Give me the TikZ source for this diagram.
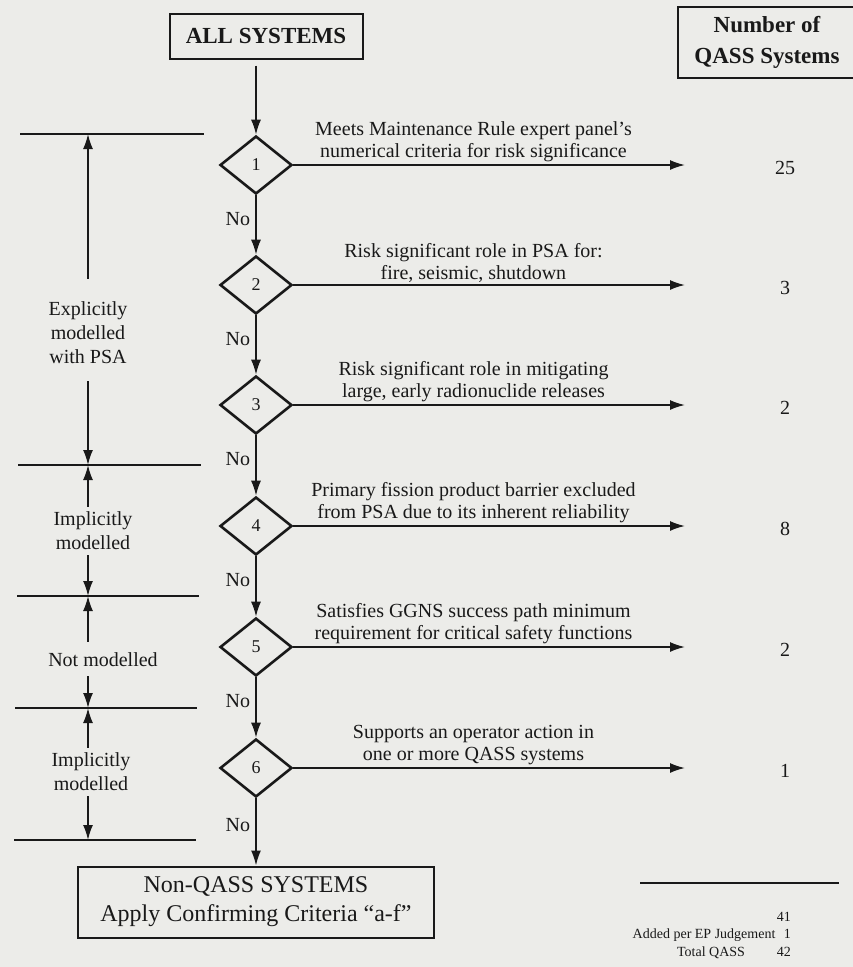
\documentclass[tikz,border=0pt]{standalone}
\usepackage{fontspec}
\setmainfont{Liberation Serif}
\usetikzlibrary{shapes.geometric,arrows.meta,positioning}
\definecolor{paper}{RGB}{236,236,233}
\definecolor{ink}{RGB}{25,25,25}

\begin{document}
\begin{tikzpicture}[
     x=1pt, y=-1pt,
     color=ink,
     % define styles
     sysbox/.style={
         draw, line width=2pt, inner sep=0pt, align=center,
         font=\bfseries\fontsize{23}{31}\selectfont
     },
     decision/.style={
         draw, diamond, line width=2.6pt, inner sep=0pt,
         minimum width=72pt, minimum height=58pt,
         font=\fontsize{18}{20}\selectfont
     },
     crit/.style={
         align=center, inner sep=2pt,
         font=\fontsize{20}{22}\selectfont
     },
     band/.style={
         align=center, inner sep=5pt,
         font=\fontsize{20}{24}\selectfont
     },
     tally/.style={font=\fontsize{20}{22}\selectfont},
     small/.style={
         inner sep=0pt, text height=10pt, text depth=3pt,
         font=\fontsize{14}{17}\selectfont
     },
     flow/.style={->, line width=1.7pt},
     rule/.style={line width=2.2pt},
     >={Latex[length=15pt,width=10pt]}
]
% paper and page size
\fill[paper] (0,0) rectangle (853,967);
\useasboundingbox (0,0) rectangle (853,967);

% boxes at top and bottom
\node[sysbox, minimum width=193pt, minimum height=45pt] (all) at (266,36) {ALL SYSTEMS};
\node[sysbox, minimum width=178pt, minimum height=71pt] (head) at (767,42) {Number of\\QASS Systems};
\node[sysbox, font=\fontsize{24}{29}\selectfont, minimum width=356pt, minimum height=71pt]
     (nonq) at (256,902) {Non-QASS SYSTEMS\\Apply Confirming Criteria “a-f”};

% decision diamonds
\node[decision] (d1) at (256,165) {1};
\node[decision] (d2) at (256,285) {2};
\node[decision] (d3) at (256,405) {3};
\node[decision] (d4) at (256,526) {4};
\node[decision] (d5) at (256,647) {5};
\node[decision] (d6) at (256,768) {6};

% ends of the criteria arrows
\coordinate (t1) at (685,165);
\coordinate (t2) at (685,285);
\coordinate (t3) at (685,405);
\coordinate (t4) at (685,526);
\coordinate (t5) at (685,647);
\coordinate (t6) at (685,768);

% number of systems per criterion
\node[tally] (n1) at (785,168) {25};
\node[tally] (n2) at (785,288) {3};
\node[tally] (n3) at (785,408) {2};
\node[tally] (n4) at (785,529) {8};
\node[tally] (n5) at (785,650) {2};
\node[tally] (n6) at (785,771) {1};

% main flow
\draw[flow, shorten <=6pt] (d1.north |- all.south) -- (d1.north);
\draw[flow] (d1.south) -- node[crit, left=3pt, pos=0.4] {No} (d2.north);
\draw[flow] (d2.south) -- node[crit, left=3pt, pos=0.4] {No} (d3.north);
\draw[flow] (d3.south) -- node[crit, left=3pt, pos=0.4] {No} (d4.north);
\draw[flow] (d4.south) -- node[crit, left=3pt, pos=0.4] {No} (d5.north);
\draw[flow] (d5.south) -- node[crit, left=3pt, pos=0.4] {No} (d6.north);
\draw[flow] (d6.south) -- node[crit, left=3pt, pos=0.4] {No} (nonq.north);

% criteria
\draw[flow] (d1.east) -- node[crit, above, pos=0.46]
     {Meets Maintenance Rule expert panel's\\numerical criteria for risk significance} (t1);
\draw[flow] (d2.east) -- node[crit, above, pos=0.46]
     {Risk significant role in PSA for:\\fire, seismic, shutdown} (t2);
\draw[flow] (d3.east) -- node[crit, above, pos=0.46]
     {Risk significant role in mitigating\\large, early radionuclide releases} (t3);
\draw[flow] (d4.east) -- node[crit, above, pos=0.46]
     {Primary fission product barrier excluded\\from PSA due to its inherent reliability} (t4);
\draw[flow] (d5.east) -- node[crit, above, pos=0.46]
     {Satisfies GGNS success path minimum\\requirement for critical safety functions} (t5);
\draw[flow] (d6.east) -- node[crit, above, pos=0.46]
     {Supports an operator action in\\one or more QASS systems} (t6);

% modelling bands on the left
\coordinate (b1) at (88,134);
\coordinate (b2) at (88,465);
\coordinate (b3) at (88,596);
\coordinate (b4) at (88,708);
\coordinate (b5) at (88,840);
\draw[rule] (20,134) -- (204,134);
\draw[rule] (18,465) -- (201,465);
\draw[rule] (17,596) -- (199,596);
\draw[rule] (15,708) -- (197,708);
\draw[rule] (14,840) -- (196,840);

\node[band] (expl) at (88,333) {Explicitly\\modelled\\with PSA};
\node[band] (imp1) at (93,531) {Implicitly\\modelled};
\node[band] (notm) at (103,660) {Not modelled};
\node[band] (imp2) at (91,772) {Implicitly\\modelled};

\draw[flow, shorten <=18pt] (b1 |- expl.north) -- (b1);
\draw[flow, shorten <=12pt] (b2 |- expl.south) -- (b2);
\draw[flow] (b2 |- imp1.north) -- (b2);
\draw[flow] (b3 |- imp1.south) -- (b3);
\draw[flow, shorten <=6pt] (b3 |- notm.north) -- (b3);
\draw[flow, shorten <=4pt] (b4 |- notm.south) -- (b4);
\draw[flow] (b4 |- imp2.north) -- (b4);
\draw[flow] (b5 |- imp2.south) -- (b5);

% totals
\draw[rule] (640,883) -- (839,883);
\node[small, anchor=east] (sum) at (791,918) {41};
\node[small, anchor=east] (addn) at (791,935) {1};
\node[small, left=8pt of addn] (added) {Added per EP Judgement};
\node[small, anchor=east] (tot) at (791,953) {42};
\node[small] (totl) at (711,953) {Total QASS};
\end{tikzpicture}
\end{document}
